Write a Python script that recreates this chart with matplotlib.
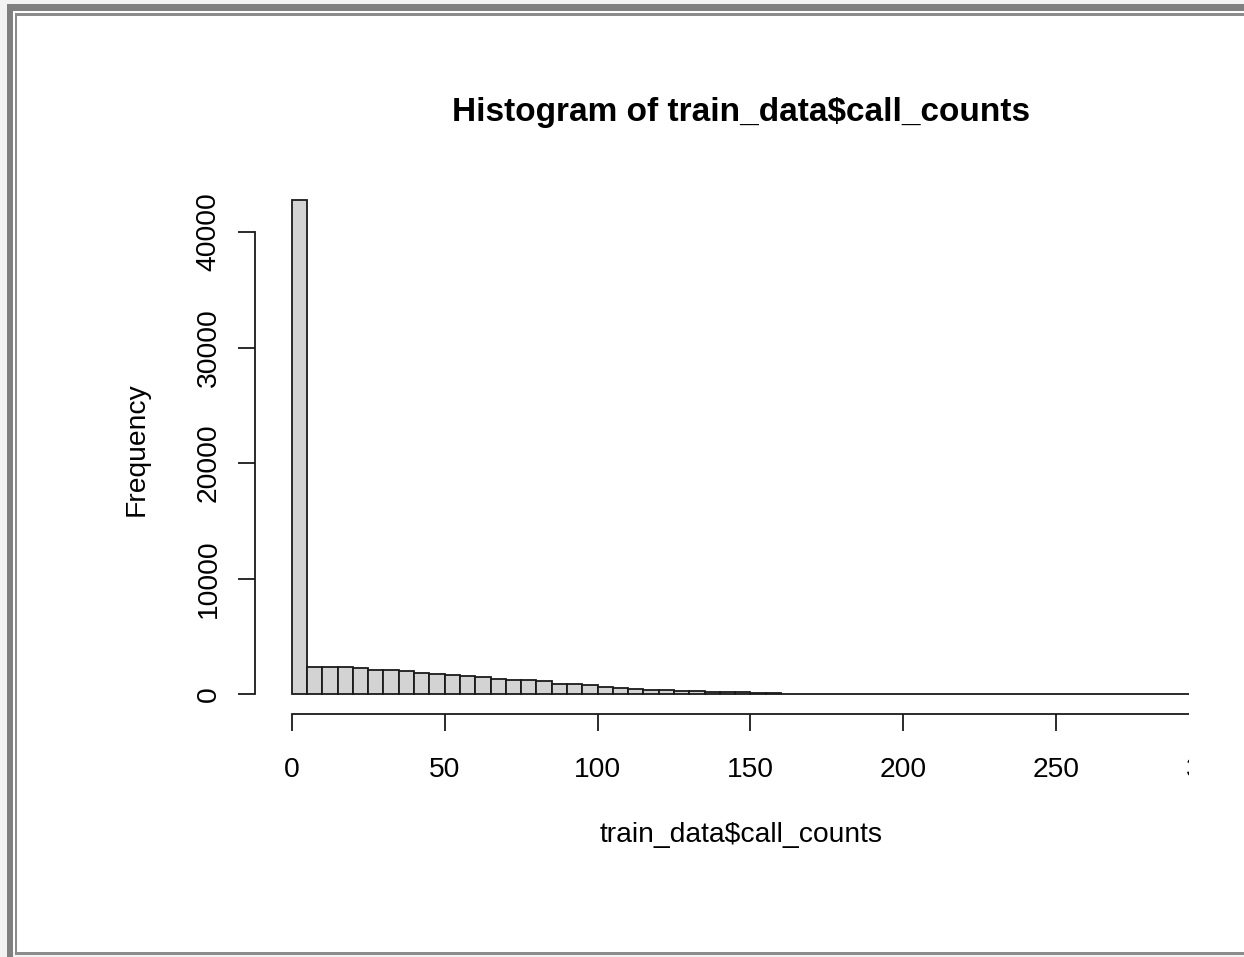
import matplotlib
matplotlib.use("Agg")
import matplotlib.pyplot as plt
from matplotlib.patches import Rectangle

plt.rcParams['font.family'] = ['Liberation Sans', 'DejaVu Sans']

# histogram counts, bins of width 5 starting at 0
bin_width = 5
counts = [42800, 2380, 2380, 2370, 2230, 2100, 2090, 2030, 1870, 1780,
          1660, 1550, 1470, 1310, 1260, 1200, 1120, 880, 870, 800,
          660, 570, 480, 400, 340, 310, 260, 210, 190, 150,
          110, 70, 50, 40, 30, 20] + [0] * 24
x_ticks = [0, 50, 100, 150, 200, 250, 300]
y_ticks = [0, 10000, 20000, 30000, 40000]

title = "Histogram of train_data$call_counts"
xlabel = "train_data$call_counts"
ylabel = "Frequency"

W, H = 1244, 957
fig = plt.figure(figsize=(W / 100, H / 100), dpi=100)
fig.patch.set_facecolor('#f3f3f3')


def px_rect(x0, y0, x1, y1, color, z=0):
    # rectangle given in image pixel coords (y down)
    r = Rectangle((x0 / W, 1 - y1 / H), (x1 - x0) / W, (y1 - y0) / H,
                  transform=fig.transFigure, facecolor=color,
                  edgecolor='none', zorder=z)
    fig.add_artist(r)


# window frame
px_rect(13, 11, W, 952, 'white', -5)
px_rect(7, 4, W, 11, '#808080', -4)
px_rect(7, 4, 13, H, '#808080', -4)
px_rect(15, 13, W, 16, '#8c8c8c', -4)
px_rect(15, 13, 17, 954, '#8c8c8c', -4)
px_rect(15, 952, W, 954.5, '#8c8c8c', -4)

ax = fig.add_axes([255 / W, 1 - 714 / H, 991 / W, 534 / H])
ax.patch.set_visible(False)

edges = [i * bin_width for i in range(len(counts))]
ax.bar(edges, counts, width=bin_width, align='edge', color='#d3d3d3',
       edgecolor='#1a1a1a', linewidth=1.3)

top = max(counts)
ax.set_xlim(-12, 312)
ax.set_ylim(-0.04 * top, 1.04 * top)

for s in ['top', 'right']:
    ax.spines[s].set_visible(False)
ax.spines['left'].set_bounds(y_ticks[0], y_ticks[-1])
ax.spines['bottom'].set_bounds(x_ticks[0], x_ticks[-1])
for s in ['left', 'bottom']:
    ax.spines[s].set_linewidth(1.3)
    ax.spines[s].set_color('#1a1a1a')

ax.set_xticks(x_ticks)
ax.set_yticks(y_ticks)
ax.set_xticklabels([str(v) for v in x_ticks])
ax.set_yticklabels([str(v) for v in y_ticks], rotation=90, va='center')
ax.tick_params(axis='both', direction='out', length=12, width=1.3,
               color='#1a1a1a', labelsize=20.3)
ax.tick_params(axis='x', pad=19)
ax.tick_params(axis='y', pad=12)

fig.text(741 / W, 1 - 113 / H, title, ha='center', va='center',
         fontsize=24, fontweight='bold')
fig.text(741 / W, 1 - 835 / H, xlabel, ha='center', va='center',
         fontsize=20.3)
fig.text(137 / W, 1 - 449 / H, ylabel, ha='center', va='center',
         fontsize=20.3, rotation=90)

# screenshot is cut off on the right side
px_rect(1189, 17, W, 951.5, 'white', 10)

fig.savefig("out.png", dpi=100)
